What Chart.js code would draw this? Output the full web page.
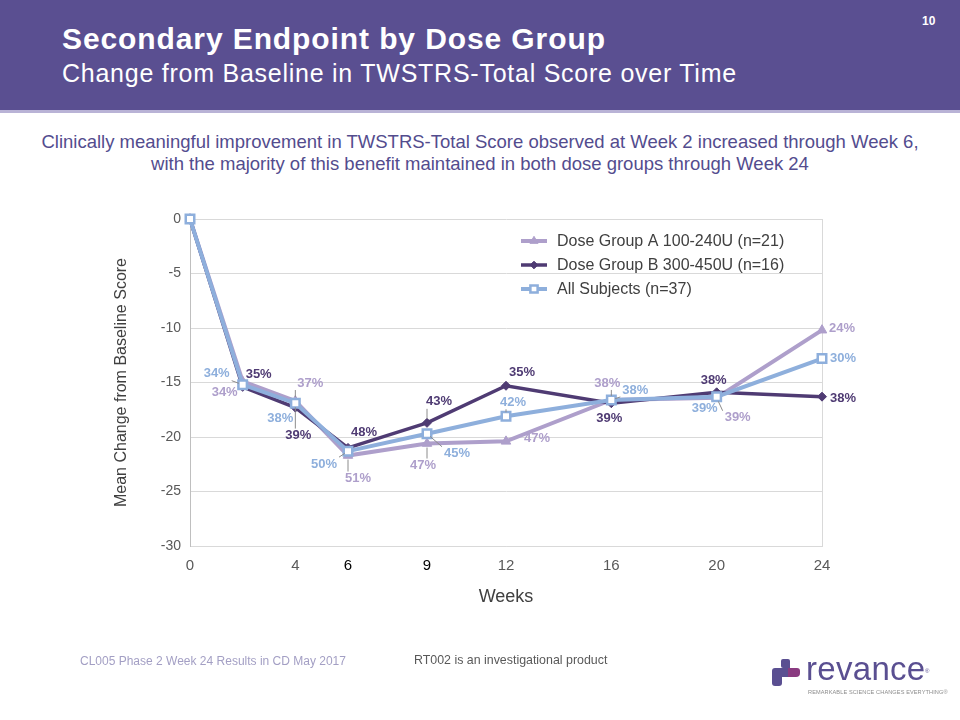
<!DOCTYPE html>
<html>
<head>
<meta charset="utf-8">
<script src="https://cdn.jsdelivr.net/npm/chart.js@4.4.1/dist/chart.umd.min.js"></script>
<style>
  html, body { margin:0; padding:0; background:#fff; }
  body { width:960px; height:720px; position:relative; overflow:hidden; font-family:"Liberation Sans", Arial, sans-serif; }
  #header { position:absolute; left:0; top:0; width:960px; height:110px; background:#5a4f91; border-bottom:3px solid #b9b3d6; }
  #title { position:absolute; left:62px; top:22px; color:#fff; font-weight:bold; font-size:30px; letter-spacing:0.9px; white-space:nowrap; }
  #subtitle { position:absolute; left:62px; top:59px; color:#fff; font-size:25px; letter-spacing:0.75px; white-space:nowrap; }
  #pagenum { position:absolute; left:922px; top:14px; color:#fff; font-weight:bold; font-size:12px; }
  #lead { position:absolute; left:0; top:131px; width:960px; text-align:center; color:#534c8e; font-size:18.5px; line-height:22px; }
  #chart { position:absolute; left:0; top:0; }
  #foot1 { position:absolute; left:80px; top:654px; color:#a39fc4; font-size:12px; white-space:nowrap; }
  #foot2 { position:absolute; left:414px; top:653px; color:#595959; font-size:12.4px; white-space:nowrap; }
  .logo { position:absolute; }
  #lg-top { left:781px; top:659px; width:9px; height:9px; background:#5a4f91; border-radius:2px 2px 0 2px; }
  #lg-left { left:772px; top:668px; width:10px; height:18px; background:#5a4f91; border-radius:3px 0 3px 3px; }
  #lg-mid { left:782px; top:668px; width:6px; height:9px; background:#5a4f91; }
  #lg-mag { left:788px; top:668px; width:12px; height:9px; background:#8a3a80; border-radius:0 3px 4px 0; }
  #lg-text { left:806px; top:650px; color:#5a4f91; font-size:33px; letter-spacing:0.3px; white-space:nowrap; }
  #lg-reg { left:925px; top:668px; color:#5a4f91; font-size:6px; }
  #lg-tag { left:808px; top:689px; color:#8c8c8c; font-size:5.6px; letter-spacing:0.1px; white-space:nowrap; }
</style>
</head>
<body>
<div id="header">
  <div id="title">Secondary Endpoint by Dose Group</div>
  <div id="subtitle">Change from Baseline in TWSTRS-Total Score over Time</div>
  <div id="pagenum">10</div>
</div>
<div id="lead">Clinically meaningful improvement in TWSTRS-Total Score observed at Week 2 increased through Week 6,<br>with the majority of this benefit maintained in both dose groups through Week 24</div>
<canvas id="chart" width="960" height="720"></canvas>
<div id="foot1">CL005 Phase 2 Week 24 Results in CD May 2017</div>
<div id="foot2">RT002 is an investigational product</div>
<div class="logo" id="lg-top"></div>
<div class="logo" id="lg-left"></div>
<div class="logo" id="lg-mid"></div>
<div class="logo" id="lg-mag"></div>
<div class="logo" id="lg-text">revance</div>
<div class="logo" id="lg-reg">®</div>
<div class="logo" id="lg-tag">REMARKABLE SCIENCE CHANGES EVERYTHING®</div>
<script>
// ---- data ----
const weeks = [0, 2, 4, 6, 9, 12, 16, 20, 24];
const groupA = [0, -14.9, -16.7, -21.7, -20.6, -20.4, -16.6, -16.4, -10.2];
const groupB = [0, -15.4, -17.3, -21.0, -18.7, -15.3, -16.9, -15.9, -16.3];
const allSubjects = [0, -15.2, -16.9, -21.3, -19.7, -18.1, -16.6, -16.3, -12.8];
const pctA = ['', '34%', '37%', '51%', '47%', '47%', '38%', '39%', '24%'];
const pctB = ['', '35%', '39%', '48%', '43%', '35%', '39%', '38%', '38%'];
const pctAll = ['', '34%', '38%', '50%', '45%', '42%', '38%', '39%', '30%'];
const seriesNames = ['Dose Group A 100-240U (n=21)', 'Dose Group B 300-450U (n=16)', 'All Subjects (n=37)'];
const xTickValues = [0, 4, 6, 9, 12, 16, 20, 24];
const boldXTicks = [6, 9];
const yMin = -30, yMax = 0, yStep = 5;

// ---- label placement (pixel offsets from the point, leader line flag) ----
const labelPlaceA = [null, [-18, 11, 0], [15, -18, 1], [10, 23, 1], [-4, 22, 1], [31, -3, 0], [-4, -17, 1], [21, 20, 1], [20, -2, 0]];
const labelPlaceB = [null, [16, -12, 0], [3, 28, 1], [16, -15, 0], [12, -21, 1], [16, -13, 0], [-2, 15, 0], [-3, -12, 0], [21, 2, 0]];
const labelPlaceAll = [null, [-26, -11, 1], [-15, 15, 1], [-24, 13, 1], [30, 20, 1], [7, -14, 1], [24, -10, 1], [-12, 12, 0], [21, 0, 0]];

const colA = '#ae9fcb', colB = '#4f3b73', colAll = '#8eafdc';
const FONT = '"Liberation Sans", Arial, sans-serif';

const toXY = arr => weeks.map((w, i) => ({ x: w, y: arr[i] }));

const datasets = [
  { label: seriesNames[0], data: toXY(groupA), borderColor: colA, backgroundColor: colA, borderWidth: 4,
    pointStyle: 'triangle', pointRadius: 5.5, pointBorderWidth: 1, pointBackgroundColor: colA, pointBorderColor: colA,
    order: 2, pct: pctA, place: labelPlaceA },
  { label: seriesNames[1], data: toXY(groupB), borderColor: colB, backgroundColor: colB, borderWidth: 3.5,
    pointStyle: 'rectRot', pointRadius: 4.5, pointBorderWidth: 1, pointBackgroundColor: colB, pointBorderColor: colB,
    order: 1, pct: pctB, place: labelPlaceB },
  { label: seriesNames[2], data: toXY(allSubjects), borderColor: colAll, backgroundColor: '#ffffff', borderWidth: 4,
    pointStyle: 'rect', pointRadius: 6, pointBorderWidth: 2.5, pointBackgroundColor: '#ffffff', pointBorderColor: colAll,
    order: 0, pct: pctAll, place: labelPlaceAll }
];

const pointLabels = {
  id: 'pointLabels',
  afterDatasetsDraw(chart) {
    const ctx = chart.ctx;
    ctx.save();
    ctx.font = 'bold 13px ' + FONT;
    ctx.textAlign = 'center';
    ctx.textBaseline = 'middle';
    chart.data.datasets.forEach((ds, di) => {
      const meta = chart.getDatasetMeta(di);
      meta.data.forEach((pt, i) => {
        const txt = ds.pct[i];
        const pl = ds.place[i];
        if (!txt || !pl) return;
        const cx = pt.x + pl[0], cy = pt.y + pl[1];
        if (pl[2]) {
          const w = ctx.measureText(txt).width, h = 12;
          const ex = Math.min(Math.max(pt.x, cx - w / 2 - 2), cx + w / 2 + 2);
          const ey = Math.min(Math.max(pt.y, cy - h / 2 - 1), cy + h / 2 + 1);
          const dx = ex - pt.x, dy = ey - pt.y;
          const len = Math.hypot(dx, dy);
          if (len > 5) {
            ctx.strokeStyle = '#8c8c8c';
            ctx.lineWidth = 1;
            ctx.beginPath();
            ctx.moveTo(pt.x + dx / len * 4, pt.y + dy / len * 4);
            ctx.lineTo(ex, ey);
            ctx.stroke();
          }
        }
        ctx.fillStyle = ds.borderColor;
        ctx.fillText(txt, cx, cy);
      });
    });
    ctx.restore();
  }
};

const innerLegend = {
  id: 'innerLegend',
  afterDraw(chart) {
    const ctx = chart.ctx;
    const area = chart.chartArea;
    const x0 = area.left + 331, y0 = area.top + 22, rowH = 24;
    ctx.save();
    ctx.font = '16px ' + FONT;
    ctx.textBaseline = 'middle';
    ctx.textAlign = 'left';
    chart.data.datasets.forEach((ds, i) => {
      const y = y0 + i * rowH;
      ctx.strokeStyle = ds.borderColor;
      ctx.lineWidth = ds.borderWidth;
      ctx.beginPath();
      ctx.moveTo(x0, y);
      ctx.lineTo(x0 + 26, y);
      ctx.stroke();
      ctx.fillStyle = ds.pointBackgroundColor;
      ctx.strokeStyle = ds.pointBorderColor;
      ctx.lineWidth = ds.pointBorderWidth;
      Chart.helpers.drawPoint(ctx, { pointStyle: ds.pointStyle, radius: ds.pointRadius * 0.85, borderWidth: ds.pointBorderWidth, rotation: 0 }, x0 + 13, y);
      ctx.fillStyle = '#404040';
      ctx.fillText(ds.label, x0 + 36, y + 1);
    });
    ctx.restore();
  }
};

new Chart(document.getElementById('chart'), {
  type: 'line',
  data: { datasets },
  plugins: [pointLabels, innerLegend],
  options: {
    responsive: false,
    animation: false,
    devicePixelRatio: 1,
    clip: false,
    layout: { padding: { left: 108, top: 219, right: 138, bottom: 108 } },
    plugins: { legend: { display: false }, tooltip: { enabled: false } },
    elements: { line: { tension: 0 } },
    scales: {
      x: {
        type: 'linear', min: 0, max: 24,
        afterBuildTicks: s => { s.ticks = xTickValues.map(v => ({ value: v })); },
        afterFit: s => { s.height = 66; },
        ticks: {
          padding: 11,
          font: { family: FONT, size: 15 },
          color: c => boldXTicks.includes(c.tick.value) ? '#000000' : '#595959',
          callback: v => String(v)
        },
        grid: { drawTicks: false, color: c => (c.tick && c.tick.value === 24) ? '#d9d9d9' : 'rgba(0,0,0,0)', lineWidth: 1 },
        border: { color: '#d9d9d9', width: 1 },
        title: { display: true, text: 'Weeks', color: '#404040', font: { family: FONT, size: 18 }, padding: { top: 4, bottom: 4 } }
      },
      y: {
        min: yMin, max: yMax,
        afterFit: s => { s.width = 82; },
        ticks: { stepSize: yStep, padding: 9, font: { family: FONT, size: 14 }, color: '#595959' },
        grid: { drawTicks: false, color: '#d9d9d9', lineWidth: 1 },
        border: { color: '#bfbfbf', width: 1 },
        title: { display: true, text: 'Mean Change from Baseline Score', color: '#404040', font: { family: FONT, size: 16 }, padding: { top: 4, bottom: 4 } }
      }
    }
  }
});
</script>
</body>
</html>
